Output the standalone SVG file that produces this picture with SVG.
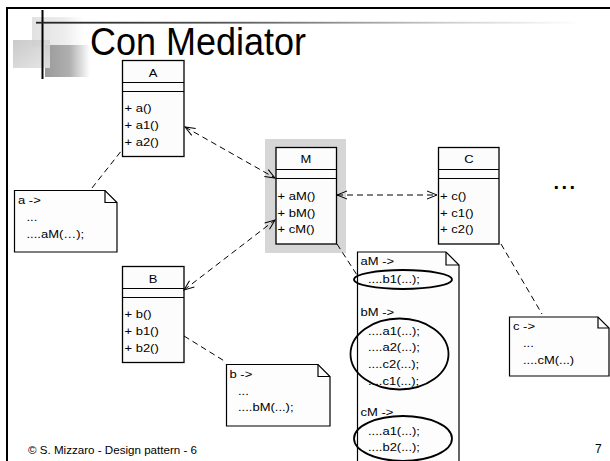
<svg xmlns="http://www.w3.org/2000/svg" width="610" height="461" viewBox="0 0 610 461">
<defs>
<style>
.u{font-family:"Liberation Sans",Arial,sans-serif;font-size:10px;fill:#000}
.c{text-anchor:middle}
.box{fill:#fcfcfc;stroke:#000;stroke-width:1.3}
.sep{stroke:#000;stroke-width:1}
.note{fill:#fdfdfd;stroke:#000;stroke-width:1.2}
.fold{fill:none;stroke:#000;stroke-width:1.2}
.dash{fill:none;stroke:#000;stroke-width:1;stroke-dasharray:6 4}
.ell{fill:none;stroke:#000;stroke-width:1.8}
</style>
<marker id="open" viewBox="0 0 12 10" refX="11" refY="5" markerWidth="12" markerHeight="10" markerUnits="userSpaceOnUse" orient="auto-start-reverse">
<path d="M1,1 L11,5 L1,9" fill="none" stroke="#000" stroke-width="1"/>
</marker>
<linearGradient id="g1" x1="0" y1="0" x2="1" y2="0">
<stop offset="0" stop-color="#e2e2e2"/><stop offset="0.6" stop-color="#ececec"/><stop offset="1" stop-color="#ffffff"/>
</linearGradient>
<linearGradient id="g2" x1="0" y1="0" x2="1" y2="1">
<stop offset="0" stop-color="#c4c4c4"/><stop offset="1" stop-color="#e4e4e4"/>
</linearGradient>
<linearGradient id="g3" x1="0" y1="0" x2="1" y2="0">
<stop offset="0" stop-color="#9a9a9a"/><stop offset="0.55" stop-color="#b0b0b0"/><stop offset="1" stop-color="#ffffff"/>
</linearGradient>
<linearGradient id="gl" x1="0" y1="0" x2="1" y2="0">
<stop offset="0" stop-color="#222"/><stop offset="0.35" stop-color="#555"/><stop offset="0.75" stop-color="#ccc"/><stop offset="1" stop-color="#fff"/>
</linearGradient>
</defs>
<rect width="610" height="461" fill="#fff"/>

<g id="slide-frame">
<rect x="32" y="17" width="52" height="30" fill="url(#g1)"/>
<rect x="45" y="45" width="45" height="32" fill="url(#g3)"/>
<rect x="13" y="40" width="37" height="28" fill="url(#g2)" opacity="0.9"/>
<line x1="6" y1="8" x2="610" y2="8" stroke="#000" stroke-width="2"/>
<line x1="7" y1="7" x2="7" y2="461" stroke="#000" stroke-width="2"/>
<line x1="42.5" y1="10" x2="42.5" y2="79" stroke="#000" stroke-width="2"/>
<rect x="36" y="21.8" width="545" height="1.8" fill="url(#gl)"/>
<text x="90" y="55" font-family="'Liberation Sans',Arial,sans-serif" font-size="38" textLength="216" lengthAdjust="spacingAndGlyphs">Con Mediator</text>
<text x="28" y="454" font-family="'Liberation Sans',Arial,sans-serif" font-size="11.6" textLength="169" lengthAdjust="spacingAndGlyphs">© S. Mizzaro - Design pattern - 6</text>
<text x="595" y="453" font-family="'Liberation Sans',Arial,sans-serif" font-size="12">7</text>
<text x="553.5" y="189" font-family="'Liberation Sans',Arial,sans-serif" font-size="20" font-weight="bold" letter-spacing="2.5">...</text>
</g>

<g id="classA">
<rect class="box" x="122.5" y="60.5" width="61.5" height="96"/>
<line class="sep" x1="122.5" y1="82.5" x2="184" y2="82.5"/>
<line class="sep" x1="122.5" y1="91.5" x2="184" y2="91.5"/>
<text class="u c" transform="translate(153 77) scale(1.3 1)">A</text>
<text class="u" transform="translate(124.5 112) scale(1.3 1)">+ a()</text>
<text class="u" transform="translate(124.5 129) scale(1.3 1)">+ a1()</text>
<text class="u" transform="translate(124.5 146) scale(1.3 1)">+ a2()</text>
</g>

<g id="classB">
<rect class="box" x="122.5" y="266.5" width="61.5" height="96"/>
<line class="sep" x1="122.5" y1="288.5" x2="184" y2="288.5"/>
<line class="sep" x1="122.5" y1="297.5" x2="184" y2="297.5"/>
<text class="u c" transform="translate(153 283) scale(1.3 1)">B</text>
<text class="u" transform="translate(124.5 318) scale(1.3 1)">+ b()</text>
<text class="u" transform="translate(124.5 335) scale(1.3 1)">+ b1()</text>
<text class="u" transform="translate(124.5 352) scale(1.3 1)">+ b2()</text>
</g>

<g id="classM">
<rect x="265" y="139" width="81" height="114" fill="#d6d6d6"/>
<rect class="box" x="276" y="147.5" width="60.5" height="96.5"/>
<line class="sep" x1="276" y1="169.5" x2="336.5" y2="169.5"/>
<line class="sep" x1="276" y1="178.5" x2="336.5" y2="178.5"/>
<text class="u c" transform="translate(306 163) scale(1.3 1)">M</text>
<text class="u" transform="translate(277.5 200) scale(1.3 1)">+ aM()</text>
<text class="u" transform="translate(277.5 217) scale(1.3 1)">+ bM()</text>
<text class="u" transform="translate(277.5 233) scale(1.3 1)">+ cM()</text>
</g>

<g id="classC">
<rect class="box" x="438.5" y="147.5" width="60.5" height="96.5"/>
<line class="sep" x1="438.5" y1="169.5" x2="499" y2="169.5"/>
<line class="sep" x1="438.5" y1="178.5" x2="499" y2="178.5"/>
<text class="u c" transform="translate(469 163) scale(1.3 1)">C</text>
<text class="u" transform="translate(440 200) scale(1.3 1)">+ c()</text>
<text class="u" transform="translate(440 217) scale(1.3 1)">+ c1()</text>
<text class="u" transform="translate(440 233) scale(1.3 1)">+ c2()</text>
</g>

<g id="noteA">
<path class="note" d="M14.5,190.5 H105 L117,202.5 V252 H14.5 Z"/>
<path class="fold" d="M105,190.5 V202.5 H117"/>
<text class="u" transform="translate(18 204) scale(1.3 1)">a -&gt;</text>
<text class="u" transform="translate(26.5 221) scale(1.3 1)">...</text>
<text class="u" transform="translate(26.5 238) scale(1.3 1)">....aM(…);</text>
</g>

<g id="noteB">
<path class="note" d="M226.5,364.5 H318 L330,376.5 V426 H226.5 Z"/>
<path class="fold" d="M318,364.5 V376.5 H330"/>
<text class="u" transform="translate(229.5 378) scale(1.3 1)">b -&gt;</text>
<text class="u" transform="translate(238 395) scale(1.3 1)">...</text>
<text class="u" transform="translate(238 411) scale(1.3 1)">....bM(...);</text>
</g>

<g id="noteM">
<path class="note" d="M357.5,252 H446 L459,265 V470 H357.5 Z"/>
<path class="fold" d="M446,252 V265 H459"/>
<text class="u" transform="translate(360.5 265) scale(1.3 1)">aM -&gt;</text>
<text class="u" transform="translate(368 283) scale(1.3 1)">....b1(...);</text>
<text class="u" transform="translate(360.5 316) scale(1.3 1)">bM -&gt;</text>
<text class="u" transform="translate(368 334.5) scale(1.3 1)">....a1(...);</text>
<text class="u" transform="translate(368 351) scale(1.3 1)">....a2(...);</text>
<text class="u" transform="translate(368 368) scale(1.3 1)">....c2(...);</text>
<text class="u" transform="translate(368 384.5) scale(1.3 1)">....c1(...);</text>
<text class="u" transform="translate(360.5 416) scale(1.3 1)">cM -&gt;</text>
<text class="u" transform="translate(368 434.5) scale(1.3 1)">....a1(...);</text>
<text class="u" transform="translate(368 451) scale(1.3 1)">....b2(...);</text>
<ellipse class="ell" cx="403" cy="279.5" rx="49" ry="9.5"/>
<ellipse class="ell" cx="399.5" cy="354" rx="49" ry="35.5"/>
<ellipse class="ell" cx="403" cy="438.5" rx="49" ry="22.5"/>
</g>

<g id="noteC">
<path class="note" d="M509.5,317 H598 L609,328 V376 H509.5 Z"/>
<path class="fold" d="M598,317 V328 H609"/>
<text class="u" transform="translate(513 330) scale(1.3 1)">c -&gt;</text>
<text class="u" transform="translate(523 347) scale(1.3 1)">...</text>
<text class="u" transform="translate(523 364) scale(1.3 1)">....cM(...)</text>
</g>

<g id="connectors">
<line class="dash" x1="185" y1="127" x2="275" y2="178" marker-start="url(#open)" marker-end="url(#open)"/>
<line class="dash" x1="184" y1="290" x2="275" y2="220" marker-start="url(#open)" marker-end="url(#open)"/>
<line class="dash" x1="337" y1="195" x2="437" y2="195" marker-start="url(#open)" marker-end="url(#open)"/>
<line class="dash" x1="92" y1="188" x2="122" y2="150"/>
<line class="dash" x1="184" y1="336" x2="226" y2="362"/>
<line class="dash" x1="337" y1="244" x2="357" y2="275"/>
<line class="dash" x1="501" y1="244" x2="542" y2="314"/>
</g>
</svg>
